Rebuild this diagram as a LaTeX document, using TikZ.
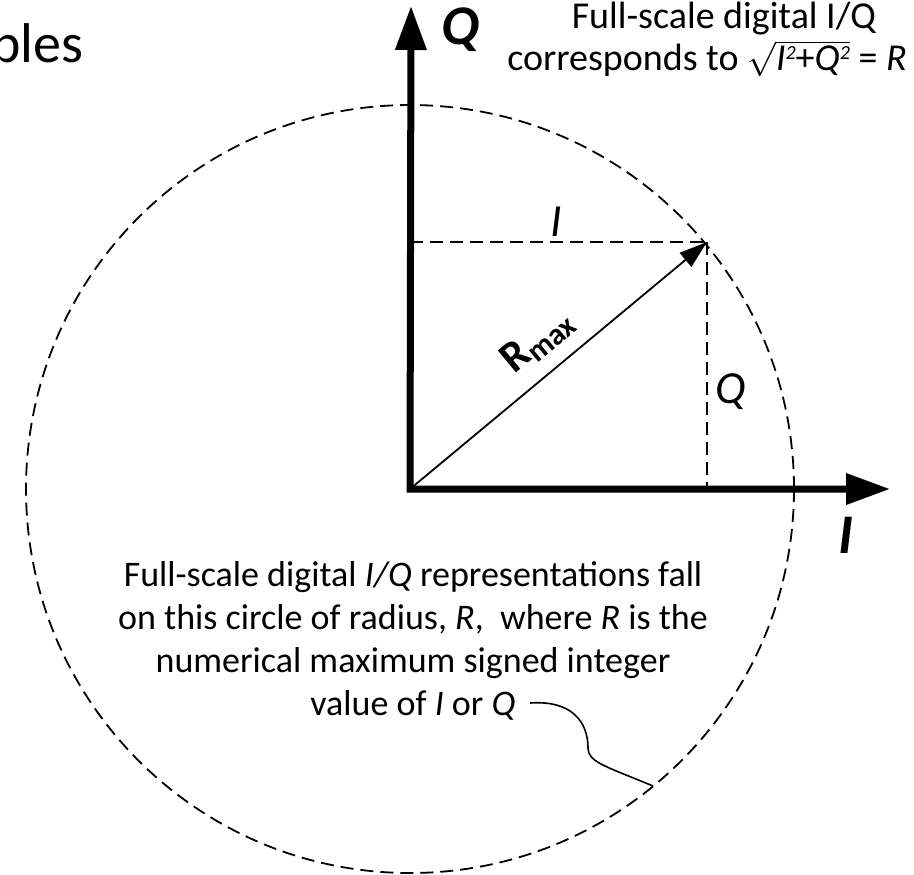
\documentclass[tikz,border=0pt]{standalone}
\usepackage{fontspec}
\setmainfont{Carlito}
\usetikzlibrary{arrows.meta,calc}

\newcommand\supsq[1]{\raisebox{5.5pt}{\fontsize{10}{10}\selectfont #1}}

\begin{document}
\begin{tikzpicture}[
  x=0.5pt, y=-0.5pt,
  every node/.style={inner sep=0pt},
  axis/.style={line width=3.5pt, line join=miter,
               {Triangle[length=22pt,width=15pt]}-{Triangle[length=22pt,width=15pt]}},
  guide/.style={line width=0.9pt, dash pattern=on 6.5pt off 3.5pt},
  vec/.style={line width=0.9pt, -{Triangle[length=14pt,width=9pt]}},
  axlabel/.style={font=\fontsize{28}{30}\selectfont\bfseries\itshape},
  complabel/.style={font=\fontsize{23}{25}\selectfont\itshape},
  note/.style={align=center, font=\fontsize{18}{21.5}\selectfont},
]
\useasboundingbox (0,0) rectangle (914,874);

\coordinate (O)    at (410,489);
\coordinate (Qtip) at (411,6);
\coordinate (Itip) at (890,489);
\coordinate (P)    at (707,242);
\coordinate (Pq)   at (410,242);
\coordinate (Pi)   at (707,489);

% slide title remnant
\node[anchor=base east, font=\fontsize{28}{30}\selectfont] (title) at (84,62) {bles};

% circle of full-scale values
\draw[guide] (O) circle[radius=384];

% I and Q projections
\draw[guide] (Pq) -- (P);
\draw[guide] (P) -- (Pi);
\node[complabel] (ilab) at (556,222) {I};
\node[complabel] (qlab) at (731,392) {Q};

% axes
\draw[axis] (Qtip) -- (O) -- (Itip);
\node[axlabel] (qaxis) at (460,30) {Q};
\node[axlabel] (iaxis) at (846,535) {I};

% vector
\draw[vec] (O) -- (P)
  node[midway, sloped, above=7pt, font=\fontsize{22}{24}\selectfont\bfseries]
  (rmax) {R\textsubscript{max}};

% notes
\node[note, font=\fontsize{19}{21.5}\selectfont, anchor=base] (topnote) at (724,28)
  {Full-scale digital I/Q};
\node[note, font=\fontsize{19}{21.5}\selectfont, anchor=base] (topform) at (707,70)
  {corresponds to $\sqrt{\hbox{\itshape I\supsq{2}\upshape+\itshape Q\supsq{2}}}$ = \textit{R}};
\node[note, anchor=south] (circnote) at (413,721)
  {Full-scale digital \textit{I/Q} representations fall\\
   on this circle of radius, \textit{R}, \ where \textit{R} is the\\
   numerical maximum signed integer\\
   value of \textit{I} or \textit{Q}};

\coordinate (lead)  at (530,703);
\coordinate (touch) at (653,786);
\draw[line width=0.8pt] (lead) .. controls (572,700) and (588,722) .. (588,748)
  .. controls (588,762) and (605,766) .. (touch);
\end{tikzpicture}
\end{document}
